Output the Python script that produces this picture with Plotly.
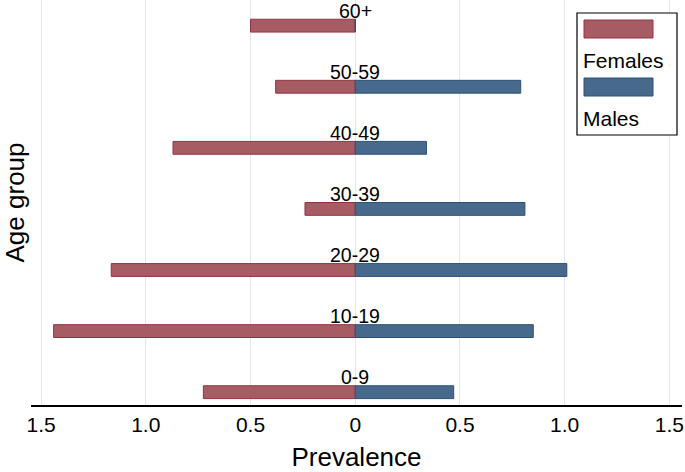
import plotly.graph_objects as go

age_groups = ["0-9", "10-19", "20-29", "30-39", "40-49", "50-59", "60+"]
females = [0.725, 1.44, 1.165, 0.24, 0.87, 0.38, 0.50]
males = [0.47, 0.85, 1.01, 0.81, 0.34, 0.79, 0.0]
tick_vals = [-1.5, -1.0, -0.5, 0, 0.5, 1.0, 1.5]
tick_text = ["1.5", "1.0", "0.5", "0", "0.5", "1.0", "1.5"]

F_FILL, F_LINE = "#a75c63", "#913544"
M_FILL, M_LINE = "#476a8c", "#2c5178"
FONT = "Liberation Sans, Arial, Helvetica, sans-serif"

W, H = 685, 472
L, R, T, B = 31, 3, 0, 67
pos = list(range(len(age_groups)))

fig = go.Figure()
fig.add_trace(go.Bar(
    y=pos, x=[-v for v in females], orientation="h", width=0.21,
    marker=dict(color=F_FILL, line=dict(color=F_LINE, width=1)),
    name="Females", showlegend=False))
fig.add_trace(go.Bar(
    y=pos, x=males, orientation="h", width=0.21,
    marker=dict(color=M_FILL, line=dict(color=M_LINE, width=1)),
    name="Males", showlegend=False))

for p, lab in zip(pos, age_groups):
    fig.add_annotation(x=0, y=p, text=lab, showarrow=False, yshift=15,
                       font=dict(size=19.5, color="black", family=FONT))

pw, ph = W - L - R, H - T - B
def px(x): return (x - L) / pw
def py(y): return (H - B - y) / ph

# custom Stata-style legend
shapes = [
    dict(type="rect", xref="paper", yref="paper", x0=px(577), x1=px(677),
         y0=py(135), y1=py(13), line=dict(color="black", width=1.2), fillcolor="white"),
    dict(type="rect", xref="paper", yref="paper", x0=px(584), x1=px(653),
         y0=py(38), y1=py(20), line=dict(color=F_LINE, width=1), fillcolor=F_FILL),
    dict(type="rect", xref="paper", yref="paper", x0=px(584), x1=px(653),
         y0=py(96), y1=py(78), line=dict(color=M_LINE, width=1), fillcolor=M_FILL),
]
for txt, yy in [("Females", 61), ("Males", 118)]:
    fig.add_annotation(xref="paper", yref="paper", x=px(581), y=py(yy), text=txt,
                       showarrow=False, xanchor="left", yanchor="middle",
                       font=dict(size=21, color="black", family=FONT))

fig.update_layout(
    width=W, height=H, margin=dict(l=L, r=R, t=T, b=B, autoexpand=False),
    paper_bgcolor="white", plot_bgcolor="white",
    barmode="overlay", shapes=shapes,
    font=dict(family=FONT, color="black"),
    xaxis=dict(range=[-1.548, 1.56], tickvals=tick_vals, ticktext=tick_text,
               tickfont=dict(size=21), showgrid=True, gridcolor="#e6e6e6", gridwidth=1,
               zeroline=False, showline=True, linecolor="black", linewidth=1.5,
               ticks="", automargin=False,
               title=dict(text="Prevalence", font=dict(size=26), standoff=14)),
    yaxis=dict(range=[-0.21, 6.42], showticklabels=False, showgrid=False,
               zeroline=False, showline=False, ticks="", automargin=False,
               title=dict(text="Age group", font=dict(size=26), standoff=0)),
)

fig.write_html("out.html", config={"displayModeBar": False},
               post_script="document.body.style.margin='0';document.body.style.overflow='hidden';")
